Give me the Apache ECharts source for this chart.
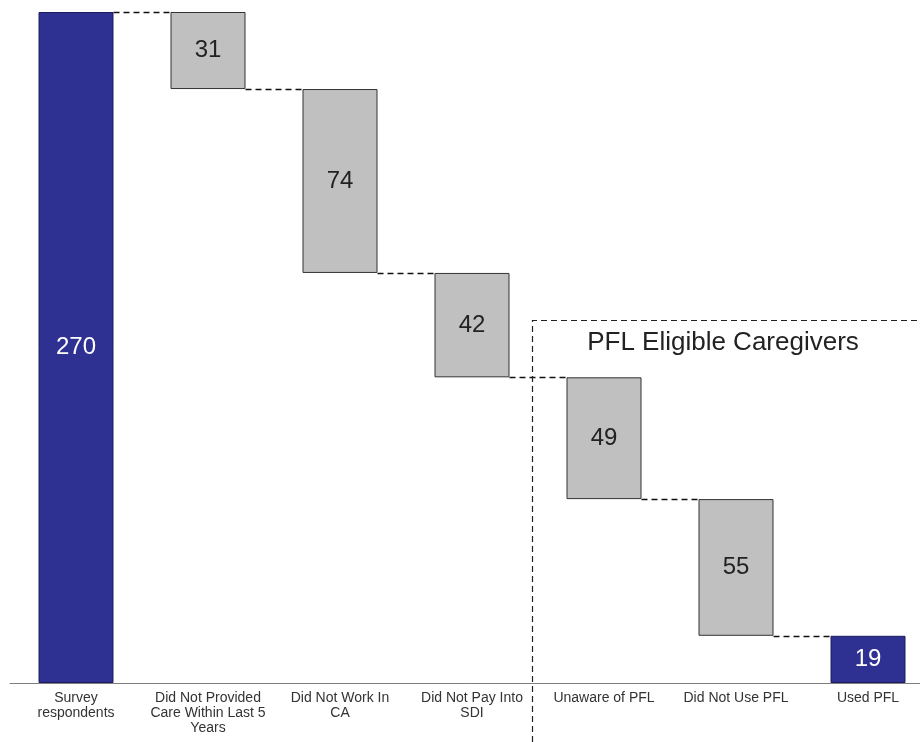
<!DOCTYPE html>
<html>
<head>
<meta charset="utf-8">
<script src="https://cdn.jsdelivr.net/npm/echarts@6/dist/echarts.min.js"></script>
<style>html,body{margin:0;padding:0;background:#fff;overflow:hidden;}#chart{width:934px;height:742px;}</style>
</head>
<body>
<div id="chart"></div>
<script>
const categories = ["Survey\nrespondents", "Did Not Provided\nCare Within Last 5\nYears", "Did Not Work In\nCA", "Did Not Pay Into\nSDI", "Unaware of PFL", "Did Not Use PFL", "Used PFL"];
const values = [270, 31, 74, 42, 49, 55, 19];
const isTotal = [true, false, false, false, false, false, true];
const groupLabel = "PFL Eligible Caregivers";
const groupStartIndex = 4;
const groupTopValue = 146;

// compute invisible bases for waterfall
const bases = [];
let running = 0;
values.forEach((v, i) => {
  if (isTotal[i]) { bases.push(0); running = v; }
  else { running -= v; bases.push(running); }
});
// connector levels: top of next bar
const connectors = [];
for (let i = 0; i < values.length - 1; i++) {
  connectors.push([i, bases[i + 1] + values[i + 1]]);
}

const BLUE = '#2E3192', GRAY = '#C0C0C0';
const BAR_W = 75;

const chart = echarts.init(document.getElementById('chart'), null, {renderer: 'canvas'});
chart.setOption({
  animation: false,
  backgroundColor: '#fff',
  grid: {left: 10, right: 0, top: 12, bottom: 59, containLabel: false},
  xAxis: {
    type: 'category',
    data: categories,
    axisLine: {lineStyle: {color: '#808080', width: 1}},
    axisTick: {show: false},
    axisLabel: {interval: 0, color: '#333', fontFamily: 'Liberation Sans, Arial, sans-serif', fontSize: 14, lineHeight: 15, margin: 8}
  },
  yAxis: {type: 'value', min: 0, max: 270, show: false, splitLine: {show: false}},
  series: [
    {type: 'bar', stack: 'w', data: bases, barWidth: BAR_W, itemStyle: {color: 'transparent'}, silent: true},
    {
      type: 'bar', stack: 'w', barWidth: BAR_W,
      data: values.map((v, i) => ({
        value: v,
        itemStyle: {color: isTotal[i] ? BLUE : GRAY, borderColor: isTotal[i] ? '#1c1d5e' : '#333', borderWidth: 1},
        label: {color: isTotal[i] ? '#fff' : '#222'}
      })),
      label: {show: true, position: 'inside', fontFamily: 'Liberation Sans, Arial, sans-serif', fontSize: 24}
    },
    {
      type: 'custom',
      data: connectors,
      clip: false,
      silent: true,
      renderItem: function (params, api) {
        const i = api.value(0), lvl = api.value(1);
        const p0 = api.coord([i, lvl]);
        const p1 = api.coord([i + 1, lvl]);
        return {
          type: 'line',
          shape: {x1: p0[0] + BAR_W / 2, y1: Math.round(p0[1]) + 0.5, x2: p1[0] - BAR_W / 2, y2: Math.round(p1[1]) + 0.5},
          style: {stroke: '#111', lineWidth: 1.3, lineDash: [6, 4]}
        };
      }
    },
    {
      type: 'custom',
      data: [[groupStartIndex, groupTopValue]],
      clip: false,
      silent: true,
      renderItem: function (params, api) {
        const band = api.size([1, 0])[0];
        const c = api.coord([api.value(0), api.value(1)]);
        const x = Math.round(c[0] - band / 2 - 6) + 0.5;
        const top = Math.round(c[1]) + 0.5;
        const W = api.getWidth(), H = api.getHeight();
        return {
          type: 'group',
          children: [
            {type: 'polyline', shape: {points: [[x, H], [x, top], [W, top]]}, style: {stroke: '#222', fill: null, lineWidth: 1.2, lineDash: [6, 4]}},
            {type: 'text', x: 723, y: top + 22, style: {text: groupLabel, fill: '#222', fontFamily: 'Liberation Sans, Arial, sans-serif', fontSize: 26, align: 'center', verticalAlign: 'middle'}}
          ]
        };
      }
    }
  ]
});
</script>
</body>
</html>
